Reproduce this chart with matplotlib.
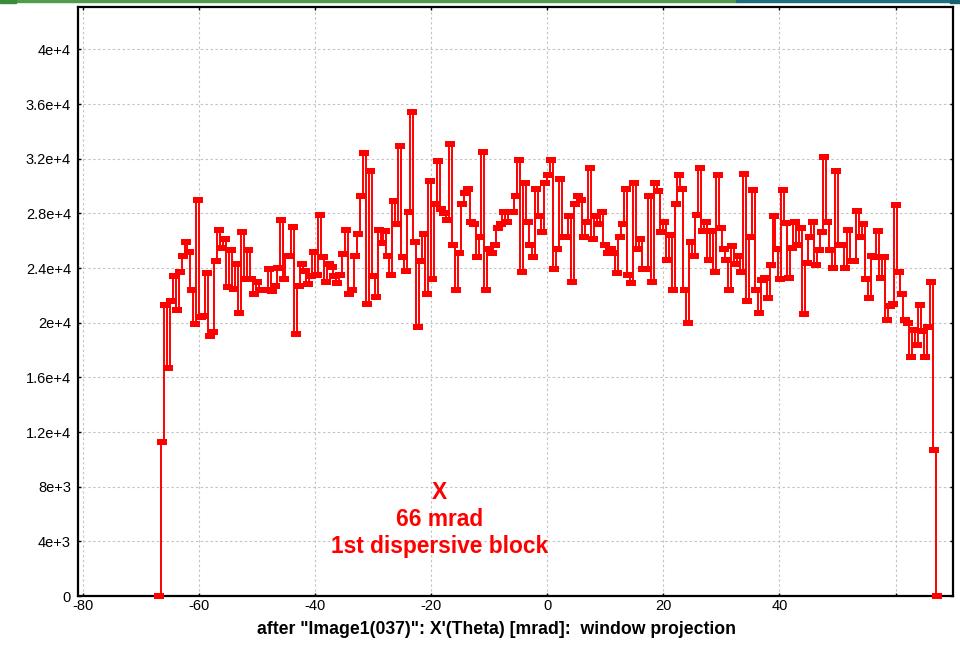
import matplotlib.pyplot as plt
import numpy as np
from matplotlib.patches import Rectangle

# Window projection histogram, X'(Theta) in mrad
counts = [
    0, 11300,
    21300, 16700, 21600, 23400, 20900, 23700, 24900, 25900, 25200, 22400,
    19900, 29000, 20400, 20500, 23600, 19000, 19300, 24500, 26800, 25500,
    26100, 22600, 25300, 22500, 24300, 20700, 26600, 23200, 25300, 23200,
    22100, 23000, 22400, 22400, 22400, 23900, 22300, 22700, 24000, 27500,
    23200, 24900, 24900, 27000, 19200, 22700, 24300, 23800, 22800, 23400,
    25200, 23500, 27900, 24800, 23000, 24300, 24100, 23400, 22900, 23500,
    25000, 26800, 22100, 22400, 24900, 26500, 29300, 32400, 21400, 31100,
    23400, 21900, 26800, 25800, 26700, 24900, 23500, 28900, 27200, 32900,
    24800, 23800, 28100, 35400,
    25900, 19700, 24500, 26500, 22100, 30400, 23200, 28700, 31800, 28300,
    28000, 27500, 33100, 25700, 22400, 25100, 28700, 29500, 29800, 27400,
    27200, 24800, 26300, 32500, 22400, 25400, 25100, 25700, 26900, 27200,
    28100, 27400, 28100, 28100, 29300, 31900, 23700, 30200, 27400, 25700,
    24800, 29800, 27800, 26600, 30200, 30800, 31900, 23900, 25400, 30500,
    26300, 26300, 27800, 23000, 28700, 29300, 29000, 26300, 27400, 31300,
    26100, 27800, 27200, 28100, 25700, 25100, 25400, 25100, 23600, 26300,
    27200, 29800, 23500, 22900, 30200, 25400, 26100, 23900, 23900, 29300,
    23000, 30200, 29600, 26600, 27400, 24600, 26400,
    22400, 28700, 30800, 29800, 22400, 20000, 25900, 24900, 27900, 31300,
    26700, 27400, 24600, 26700, 23700, 30800, 26900, 25400, 24600, 22400,
    25600, 24300, 24900, 23700, 30900, 21600, 26300, 29700, 22400, 20700,
    23100, 23300, 21800, 24200, 27800, 25400, 23200, 29700, 27300, 23300,
    25500, 27400, 25700, 26900, 20600, 24400, 26300, 27400, 24200, 25300,
    26600, 32100, 27400, 25300, 24000, 31100, 25700, 25700, 24000, 26800,
    24500, 24500, 28200, 26300, 27200, 23200, 21800, 24900, 24800, 26700,
    23300, 24800, 20200, 21200, 21400, 28600, 23700, 22100, 20200, 20000,
    17500, 19500, 18400, 21300, 19400, 17500, 19700, 23000,
    10700, 0,
]
x_first, x_last = -66.8, 67.2

x_ticks = [-80, -60, -40, -20, 0, 20, 40, 60]
x_tick_labels = ["-80", "-60", "-40", "-20", "0", "20", "40", ""]
y_ticks = [0, 4000, 8000, 12000, 16000, 20000, 24000, 28000, 32000, 36000, 40000]
y_tick_labels = ["0", "4e+3", "8e+3", "1.2e+4", "1.6e+4", "2e+4", "2.4e+4",
                 "2.8e+4", "3.2e+4", "3.6e+4", "4e+4"]

plt.rcParams['font.family'] = ['Liberation Sans', 'DejaVu Sans']

centers = np.linspace(x_first, x_last, len(counts))

fig = plt.figure(figsize=(9.6, 6.47), dpi=100, facecolor='white')

# window frame strip along the top edge
fig.patches.append(Rectangle((0, 1 - 2 / 647), 736 / 960, 2 / 647,
                             transform=fig.transFigure, color='#4f9d4a', zorder=0))
fig.patches.append(Rectangle((0, 1 - 3 / 647), 16 / 960, 3 / 647,
                             transform=fig.transFigure, color='#3c8a3c', zorder=0))
fig.patches.append(Rectangle((736 / 960, 1 - 2 / 647), 224 / 960, 2 / 647,
                             transform=fig.transFigure, color='#1e6f82', zorder=0))
fig.patches.append(Rectangle((950 / 960, 1 - 3 / 647), 10 / 960, 3 / 647,
                             transform=fig.transFigure, color='#17606f', zorder=0))

ax = fig.add_axes([78 / 960, 51 / 647, 875 / 960, 589 / 647])

rect_marker = [(-1, -0.56), (1, -0.56), (1, 0.56), (-1, 0.56), (-1, -0.56)]
ax.plot(centers, counts, drawstyle='steps-mid', color='#ff0000', linewidth=1.4,
        marker=rect_marker, markersize=7.0, markeredgewidth=0,
        markerfacecolor='#ff0000', clip_on=False, zorder=3)

ax.set_xlim(-80.8, 69.9)
ax.set_ylim(0, 43100)
ax.set_xticks(x_ticks)
ax.set_xticklabels(x_tick_labels)
ax.set_yticks(y_ticks)
ax.set_yticklabels(y_tick_labels)

ax.grid(True, color='#c4c4c4', linestyle=(0, (2.2, 2.2)), linewidth=0.8)
ax.set_axisbelow(True)
ax.tick_params(direction='in', length=2.5, width=1, top=True, right=True,
               labelsize=10.5, colors='black')
ax.tick_params(axis='y', pad=5)
ax.tick_params(axis='x', pad=2.5)
for sp in ax.spines.values():
    sp.set_linewidth(1.6)
    sp.set_color('black')

ax.text(-18.6, 5600, "X\n66 mrad\n1st dispersive block", color='#ff0000',
        fontsize=16.4, fontweight='bold', ha='center', va='center',
        linespacing=1.2)

fig.text(496 / 960, 18 / 647,
         'after "Image1(037)": X\'(Theta) [mrad]:  window projection',
         ha='center', va='center', fontsize=12.7, fontweight='bold')

fig.savefig('out.png', dpi=100, facecolor='white')
